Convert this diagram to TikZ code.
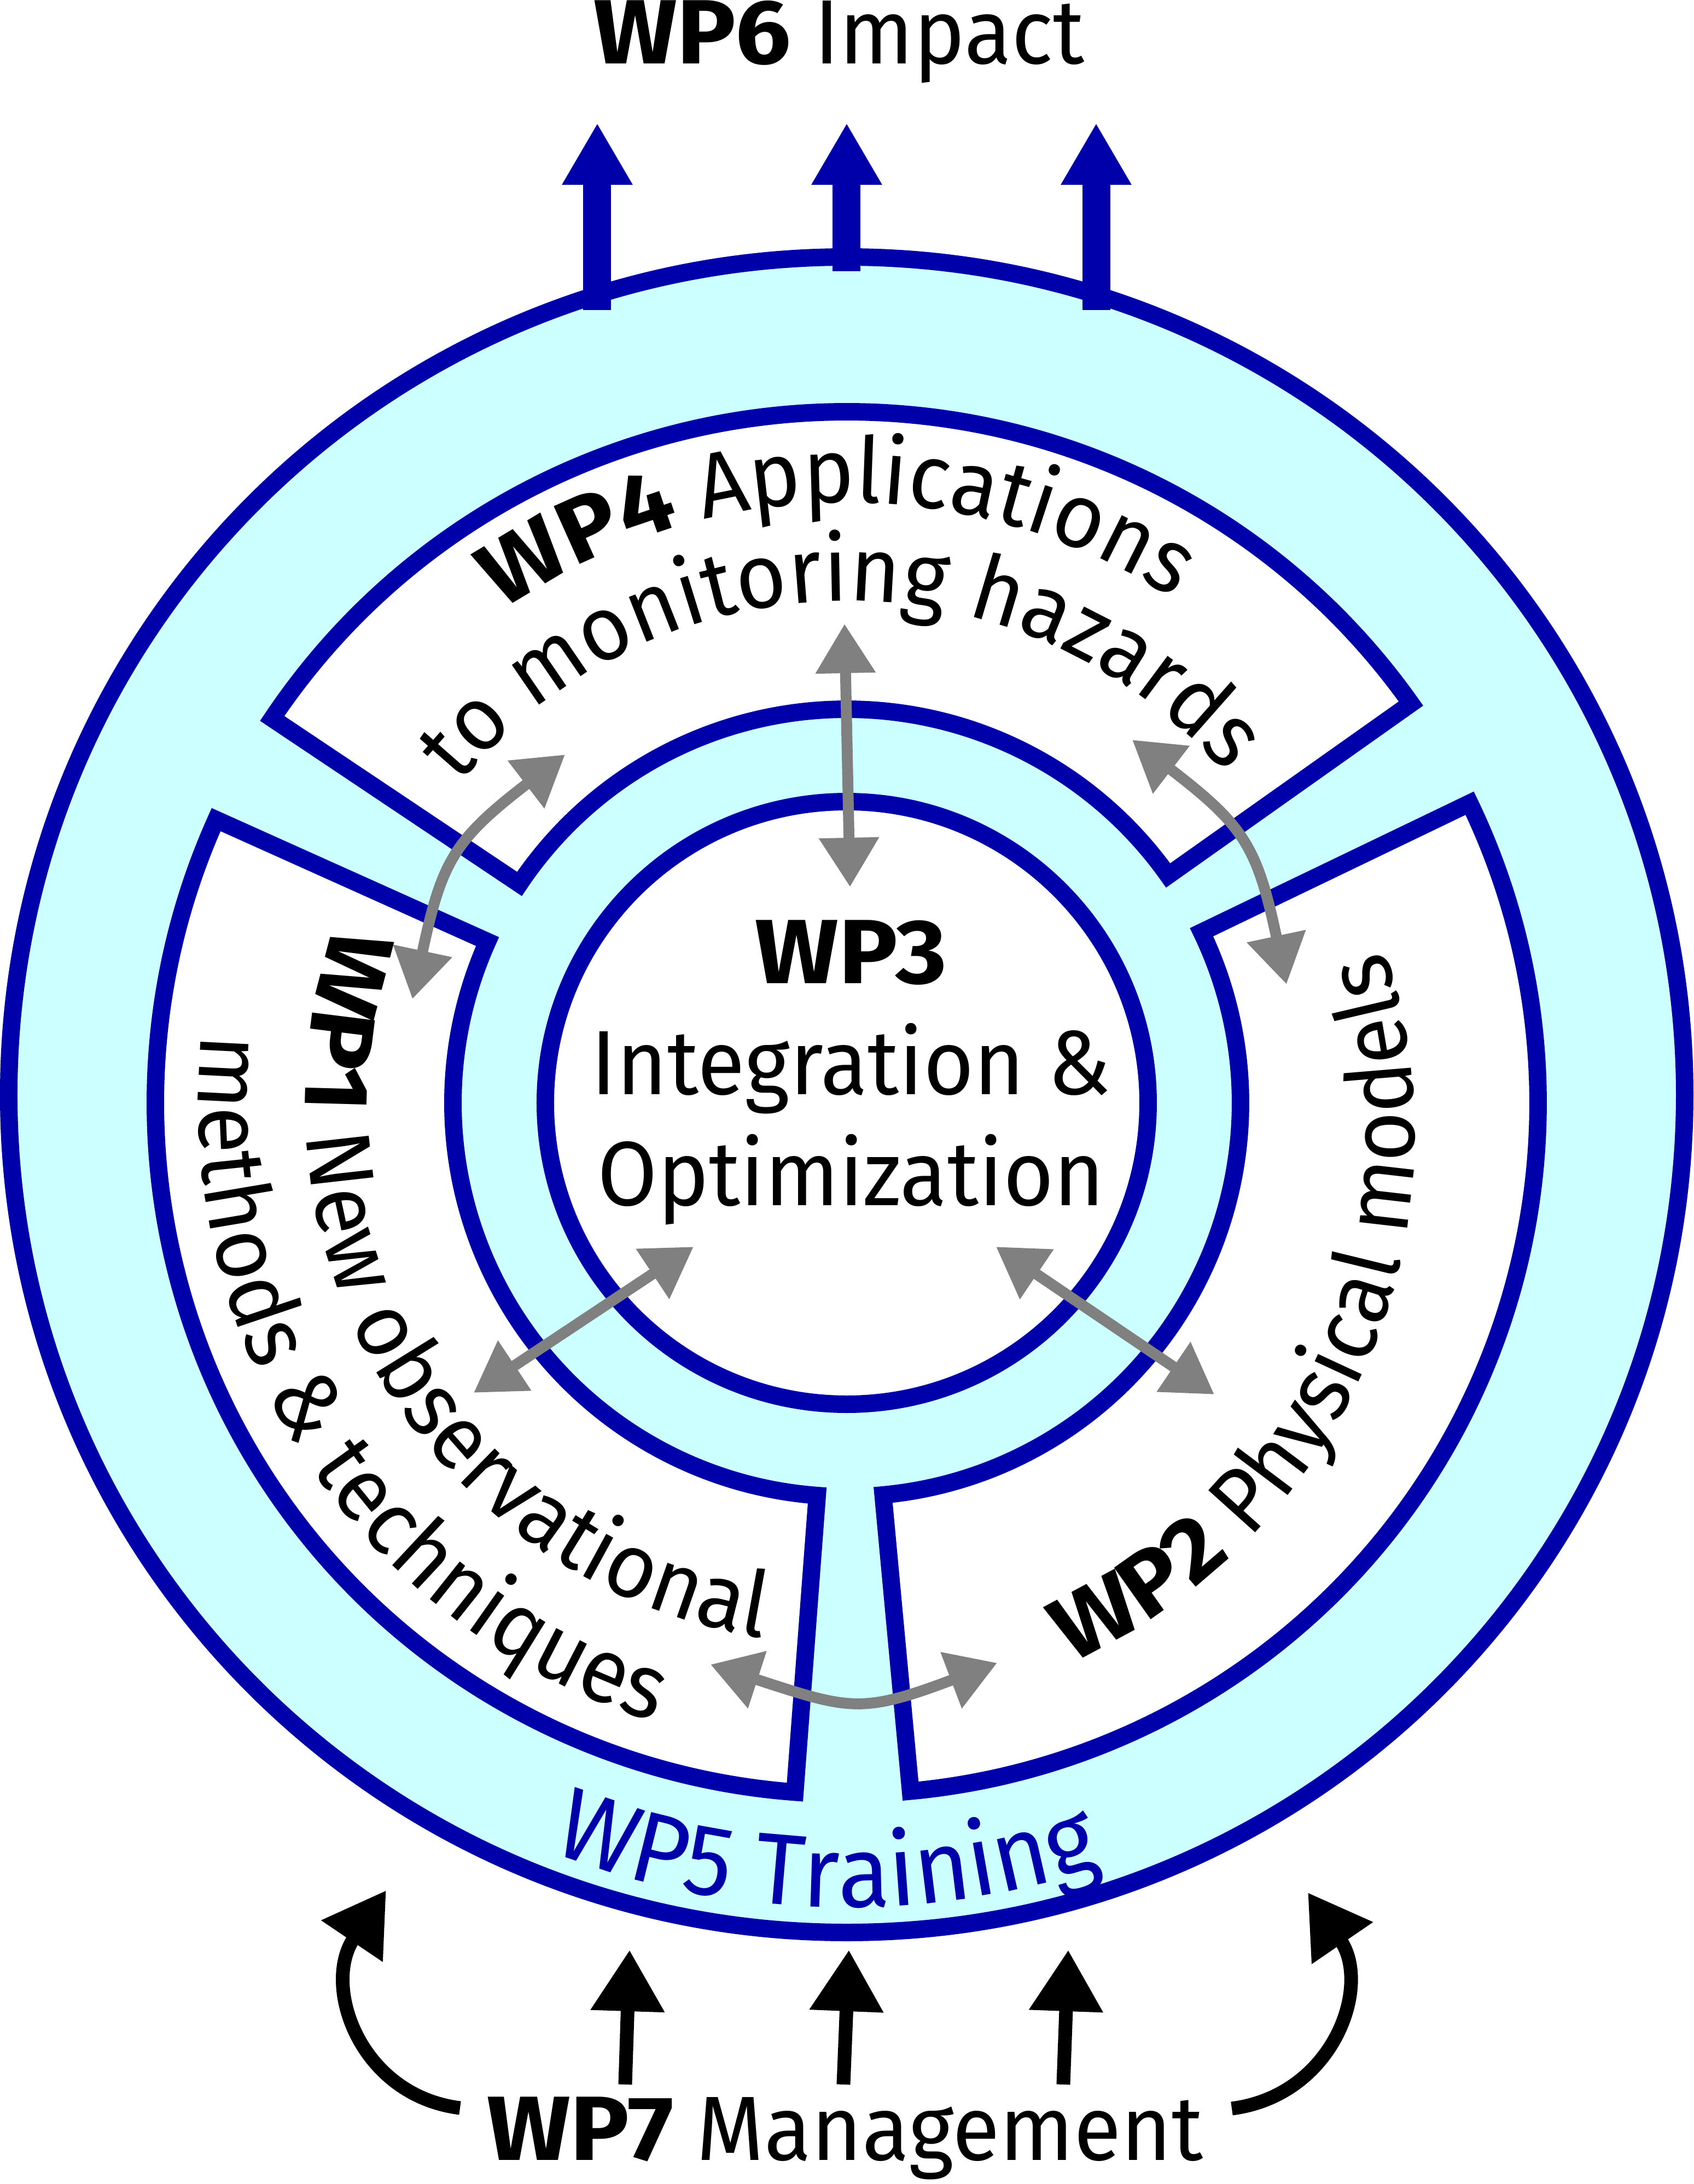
\documentclass[tikz,border=0pt]{standalone}
\usepackage{fontspec}
\setmainfont{Fira Sans}[FakeStretch=0.95, BoldFeatures={FakeStretch=1.08}]
\usetikzlibrary{arrows.meta,decorations.text}
\definecolor{wpblue}{RGB}{0,0,170}
\definecolor{ringcyan}{RGB}{204,255,255}
\definecolor{linkgray}{RGB}{128,128,128}
\newcommand{\wpfont}{\fontsize{47.5}{57.7}\selectfont}
\newcommand{\trainfont}{\fontsize{52.5}{62}\selectfont}

\begin{document}
\begin{tikzpicture}[
    ring/.style={draw=wpblue, line width=0.32cm},
    impact/.style={wpblue, line width=0.51cm, -{Triangle[length=1.13cm,width=1.21cm]}},
    manage/.style={black, line width=0.25cm, -{Triangle[length=1.12cm,width=1.29cm]}},
    link/.style={linkgray, line width=0.2cm, {Triangle[length=0.9cm,width=1.05cm]}-{Triangle[length=0.9cm,width=1.05cm]}},
    wplabel/.style={inner sep=0pt, font=\wpfont},
    arclabel/.style={decorate, decoration={text along path, text align=center, text={#1}}}
]
\useasboundingbox (-15.48,-19.92) rectangle (15.49,20.02);

% WP5 ring
\draw[ring, fill=ringcyan] (0,0) circle[radius=15.32];

% segments WP4, WP1, WP2 and the WP3 core
\begin{scope}[shift={(0,-0.15)}]
  \foreach \a/\b in {35.3/146.2, 155.8/265.7, 275.3/385.7}
    \draw[ring, fill=white] (\a:12.64) arc[start angle=\a, end angle=\b, radius=12.64]
      -- (\b:7.2) arc[start angle=\b, end angle=\a, radius=7.2] -- cycle;
  \draw[ring, fill=white] (0,0) circle[radius=5.51];

  \path[arclabel={|\wpfont\bfseries|WP4 |\wpfont|Applications}]
    (171:10.98) arc[start angle=171, end angle=11, radius=10.98];
  \path[arclabel={|\wpfont|to monitoring hazards}]
    (170.8:9.18) arc[start angle=170.8, end angle=10.8, radius=9.18];
  \path[arclabel={|\wpfont\bfseries|WP1 |\wpfont|New observational}]
    (131:9.9) arc[start angle=131, end angle=291, radius=9.9];
  \path[arclabel={|\wpfont|methods {\&} techniques}]
    (133.3:11.85) arc[start angle=133.3, end angle=293.3, radius=11.85];
  \begin{scope}[shift={(-0.21,-0.56)}]
    \path[arclabel={|\wpfont\bfseries|WP2 |\wpfont|Physical models}]
      (-103.7:10.59) arc[start angle=-103.7, end angle=56.3, radius=10.59];
  \end{scope}
\end{scope}

\path[arclabel={|\trainfont\color{wpblue}|WP5 Training}]
  (188.5:14.86) arc[start angle=188.5, end angle=348.5, radius=14.86];

% text labels
\node[wplabel, anchor=base] (wp6) at (-0.14,18.85) {\textbf{WP6} Impact};
\node[wplabel, anchor=base] (wp7) at (-0.03,-19.48) {\textbf{WP7} Management};
\node[wplabel, align=center, anchor=base] (wp3) at (0.08,-2.02) {\textbf{WP3}\\Integration \&\\Optimization};

% links between work packages
\coordinate (wp4in) at (-0.04,8.61);
\coordinate (wp3top) at (0.06,3.80);
\coordinate (wp4left) at (-5.15,6.22);
\coordinate (wp1top) at (-7.94,1.75);
\coordinate (wp4right) at (5.22,6.49);
\coordinate (wp2top) at (8.04,2.02);
\coordinate (wp3sw) at (-2.80,-2.78);
\coordinate (wp1in) at (-6.82,-5.45);
\coordinate (wp3se) at (2.73,-2.78);
\coordinate (wp2in) at (6.72,-5.48);
\coordinate (wp1low) at (-2.49,-10.42);
\coordinate (wp2low) at (2.75,-10.39);
\draw[link] (wp4in) -- (wp3top);
\draw[link] (wp4left) to[out=217.5, in=78, looseness=1.25] (wp1top);
\draw[link] (wp4right) to[out=-37.5, in=102, looseness=1.25] (wp2top);
\draw[link] (wp3sw) -- (wp1in);
\draw[link] (wp3se) -- (wp2in);
\draw[link] (wp1low) to[out=-18, in=200.7, looseness=1.3] (wp2low);

% WP6 impact arrows
\foreach \x [count=\i] in {-4.56,0,4.56}{
  \coordinate (rim\i) at (\x,{sqrt(15.06*15.06-\x*\x)});
  \coordinate (imp\i) at (\x,17.77);
  \draw[impact] (rim\i) -- (imp\i);
}

% WP7 management arrows
\foreach \x/\t [count=\i] in {-4.05/-3.97, -0.06/0.04, 3.96/4.05}{
  \coordinate (mfoot\i) at (\x,-18.10);
  \coordinate (mtip\i) at (\t,-15.64);
  \draw[manage] (mfoot\i) -- (mtip\i);
}
\coordinate (mleft) at (-7.07,-18.53);
\coordinate (mlefttip) at (-8.42,-14.55);
\coordinate (mright) at (7.04,-18.54);
\coordinate (mrighttip) at (8.43,-14.59);
\draw[manage] (mleft) .. controls (-8.9,-18.3) and (-9.6,-16.3) .. (mlefttip);
\draw[manage] (mright) .. controls (8.9,-18.3) and (9.6,-16.3) .. (mrighttip);
\end{tikzpicture}
\end{document}
